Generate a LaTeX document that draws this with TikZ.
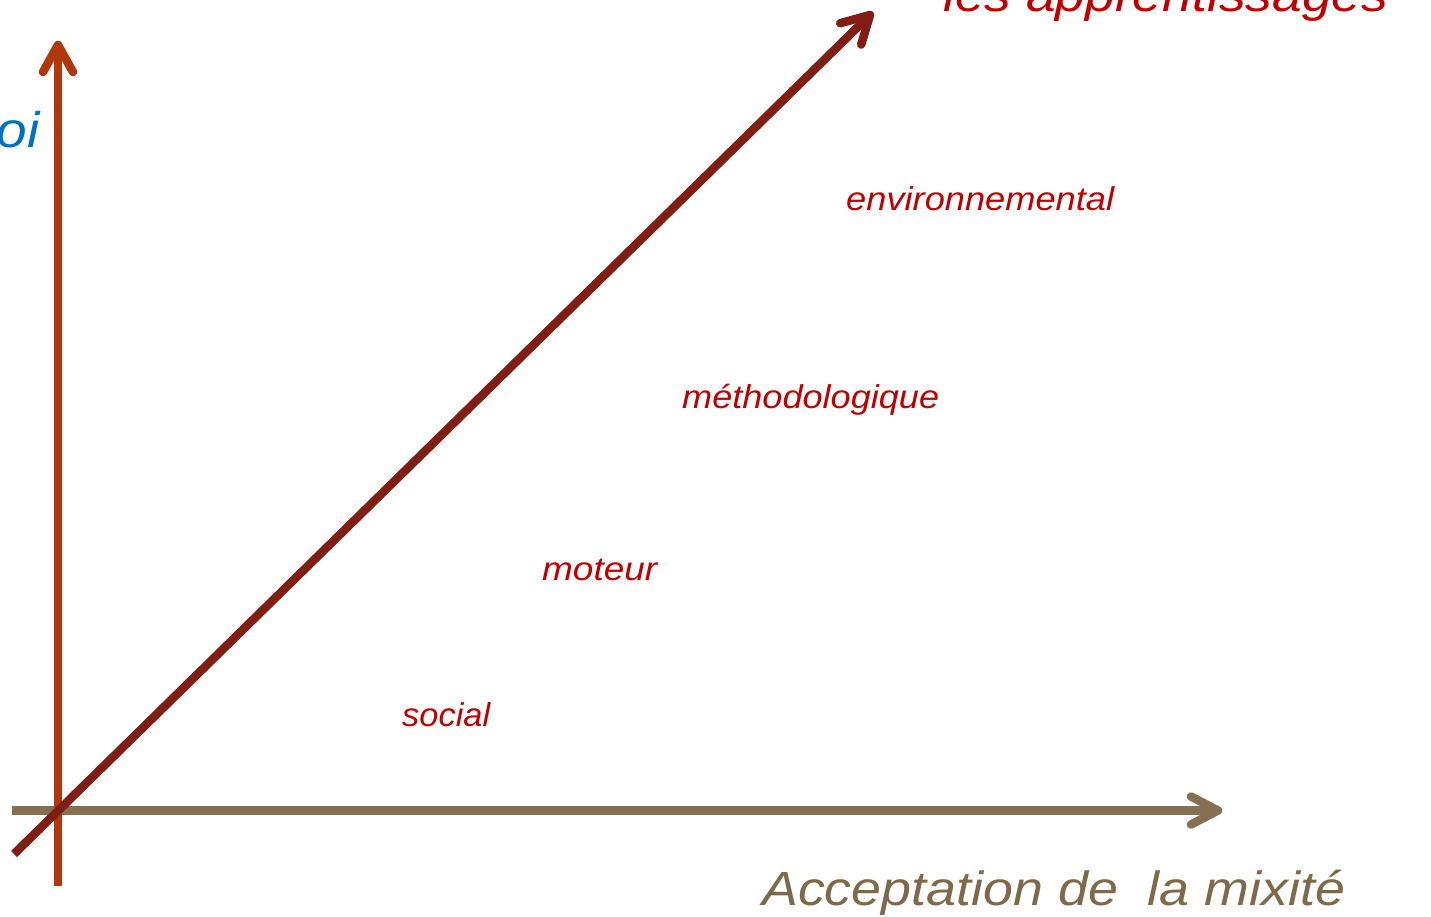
\documentclass[tikz,border=0pt]{standalone}
\usepackage{fontspec}
\setmainfont{Liberation Sans}
\usetikzlibrary{calc}

% Set #2 at its own size, then stretch it horizontally to a width of #1 pt
\newsavebox\widebox
\newcommand\stretchto[2]{%
  \sbox\widebox{#2}%
  \pgfmathsetmacro\widefactor{#1/\the\wd\widebox}%
  \scalebox{\widefactor}[1]{\usebox\widebox}}

\definecolor{axisup}{RGB}{176,56,12}
\definecolor{axisdiag}{RGB}{128,30,20}
\definecolor{axisflat}{RGB}{133,113,81}
\definecolor{labred}{RGB}{192,0,0}
\definecolor{labblue}{RGB}{0,112,192}
\definecolor{labbrown}{RGB}{125,106,75}

\begin{document}
\begin{tikzpicture}[x=1pt,y=-1pt,
  shaft/.style={line width=8.5pt},
  head/.style={line width=8.5pt,line cap=round,line join=round},
  lab/.style={inner sep=0pt,anchor=base west,font=\itshape},
  small/.style={lab,text=labred,font=\itshape\fontsize{33}{33}\selectfont},
  title/.style={lab,font=\itshape\fontsize{48}{48}\selectfont}]

\useasboundingbox (0,0) rectangle (1431,916);
\clip (0,0) rectangle (1431,916);

% axes ends
\coordinate (hstart) at (12,810.5);
\coordinate (htip)   at (1218,810.5);
\coordinate (vstart) at (58,886);
\coordinate (vtip)   at (58,45);
\coordinate (dstart) at (14,854);
\coordinate (dtip)   at (870,15);

% horizontal axis
\draw[shaft,axisflat] (hstart) -- (htip);
\draw[head,axisflat] ($(htip)+(-27,-14)$) -- (htip) -- ($(htip)+(-27,14)$);

% vertical axis
\draw[shaft,axisup] (vstart) -- (vtip);
\draw[head,axisup] ($(vtip)+(-15,27)$) -- (vtip) -- ($(vtip)+(15,27)$);

% diagonal axis
\draw[shaft,axisdiag] (dstart) -- (dtip);
\draw[head,axisdiag] ($(dtip)+(-8.8,29.6)$) -- (dtip) -- ($(dtip)+(-29.8,8.2)$);

% axis titles
\node[title,text=labred] (tdiag) at (943,11) {\stretchto{445}{les apprentissages}};
\node[title,text=labbrown] (tflat) at (762,905) {\stretchto{583}{Acceptation de\ \ la mixité}};
\node[title,text=labblue,anchor=base east,font=\itshape\fontsize{50}{50}\selectfont] (tup) at (40,147) {\scalebox{1.1}[1]{oi}};

% levels along the diagonal
\node[small] (env)  at (846,210) {\stretchto{268}{environnemental}};
\node[small] (meth) at (682,408) {\stretchto{257}{méthodologique}};
\node[small] (mot)  at (542,580) {\stretchto{115}{moteur}};
\node[small] (soc)  at (402,726) {\stretchto{88}{social}};

\end{tikzpicture}
\end{document}
